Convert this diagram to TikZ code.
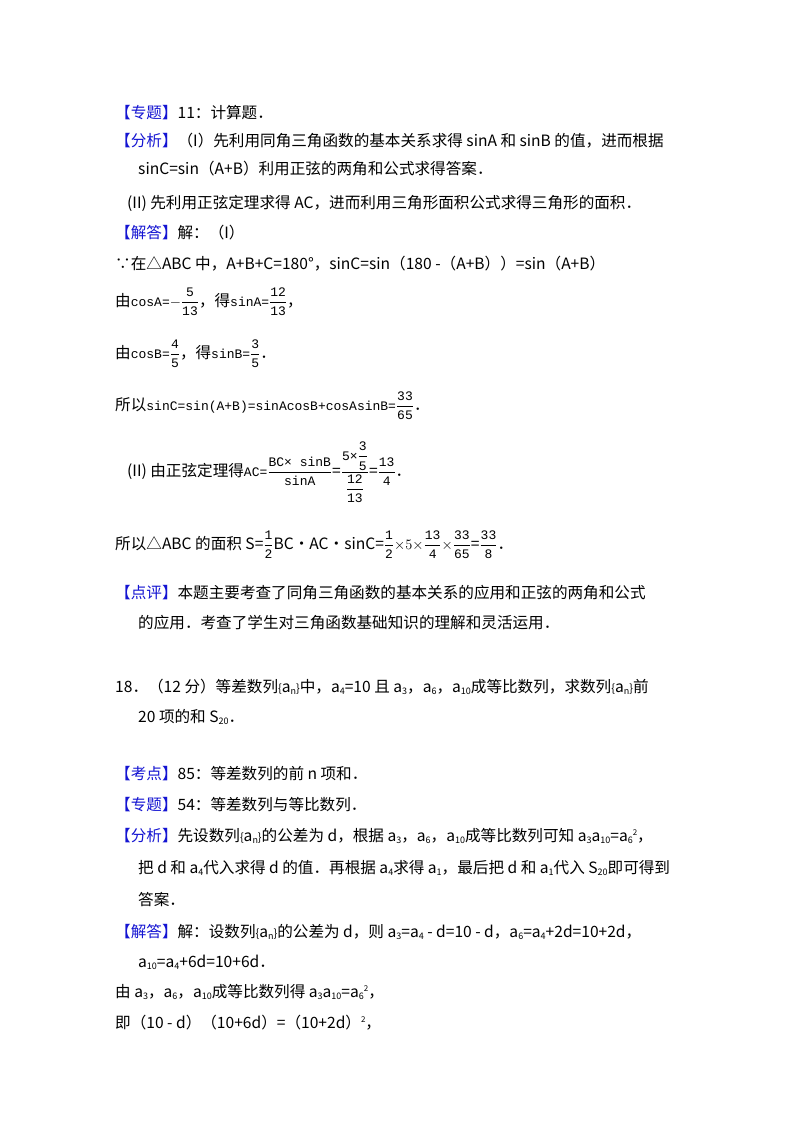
\documentclass[tikz,border=0pt]{standalone}
\usepackage{amsmath}
\usepackage{fontspec}
\setmainfont{Noto Sans CJK SC}
\newfontfamily\fm{Liberation Mono}
\definecolor{lb}{RGB}{20,20,210}
\newcommand{\lab}[1]{\textcolor{lb}{【#1】}}
\newcommand{\fs}{\fontsize{13}{14}\selectfont\fm}
\newcommand{\fr}[2]{$\dfrac{\text{\fs #1}}{\text{\fs #2}}$}
\newcommand{\sub}[1]{\raisebox{-2pt}{\fontsize{9}{9}\selectfont #1}}
\newcommand{\sups}[1]{\raisebox{6pt}{\fontsize{8}{8}\selectfont #1}}
\newcommand{\an}{{\fontsize{11}{11}\selectfont\{}a\sub{n}{\fontsize{11}{11}\selectfont\}}}
\begin{document}
\begin{tikzpicture}[x=1pt,y=-1pt,every node/.style={anchor=base west,inner sep=0pt,font=\fontsize{15.6}{17}\selectfont}]
\useasboundingbox[fill=white] (0,0) rectangle (800,1132);
\node (l1) at (115,118) {\lab{专题}11：计算题．};
\node (l2) at (115,146) {\lab{分析}（I）先利用同角三角函数的基本关系求得 sinA 和 sinB 的值，进而根据};
\node (l3) at (138,174) {sinC=sin（A+B）利用正弦的两角和公式求得答案．};
\node (l4) at (127,208) {(II) 先利用正弦定理求得 AC，进而利用三角形面积公式求得三角形的面积．};
\node (l5) at (115,238) {\lab{解答}解：（I）};
\node (l6) at (115,269) {∵在△ABC 中，A+B+C=180°，sinC=sin（180 -（A+B））=sin（A+B）};
\node (l7) at (115,306) {由{\fs cosA=}$-$\fr{5}{13}，得{\fs sinA=}\fr{12}{13}，};
\node (l8) at (115,358) {由{\fs cosB=}\fr{4}{5}，得{\fs sinB=}\fr{3}{5}．};
\node (l9) at (115,410) {所以{\fs sinC=sin(A+B)=sinAcosB+cosAsinB=}\fr{33}{65}．};
\node (l10) at (127,476) {(II) 由正弦定理得{\fs AC=}$\dfrac{\text{\fs BC× sinB}}{\text{\fs sinA}}$=$\dfrac{\text{\fs 5×}\dfrac{\text{\fs 3}}{\text{\fs 5}}}{\dfrac{\text{\fs 12}}{\text{\fs 13}}}$=\fr{13}{4}．};
\node (l11) at (115,549) {所以△ABC 的面积 S=\fr{1}{2}BC•AC•sinC=\fr{1}{2}$\times5\times$\fr{13}{4}$\times$\fr{33}{65}=\fr{33}{8}．};
\node (l12) at (115,598) {\lab{点评}本题主要考查了同角三角函数的基本关系的应用和正弦的两角和公式};
\node (l13) at (138,628) {的应用．考查了学生对三角函数基础知识的理解和灵活运用．};
\node (l14) at (115,692) {18．（12 分）等差数列\an 中，a\sub{4}=10 且 a\sub{3}，a\sub{6}，a\sub{10}成等比数列，求数列\an 前};
\node (l15) at (138,722) {20 项的和 S\sub{20}．};
\node (l16) at (115,779) {\lab{考点}85：等差数列的前 n 项和．};
\node (l17) at (115,810) {\lab{专题}54：等差数列与等比数列．};
\node (l18) at (115,841) {\lab{分析}先设数列\an 的公差为 d，根据 a\sub{3}，a\sub{6}，a\sub{10}成等比数列可知 a\sub{3}a\sub{10}=a\sub{6}\sups{2}，};
\node (l19) at (138,873) {把 d 和 a\sub{4}代入求得 d 的值．再根据 a\sub{4}求得 a\sub{1}，最后把 d 和 a\sub{1}代入 S\sub{20}即可得到};
\node (l20) at (138,905) {答案．};
\node (l21) at (115,937) {\lab{解答}解：设数列\an 的公差为 d，则 a\sub{3}=a\sub{4} - d=10 - d，a\sub{6}=a\sub{4}+2d=10+2d，};
\node (l22) at (138,967) {a\sub{10}=a\sub{4}+6d=10+6d．};
\node (l23) at (115,997) {由 a\sub{3}，a\sub{6}，a\sub{10}成等比数列得 a\sub{3}a\sub{10}=a\sub{6}\sups{2}，};
\node (l24) at (115,1028) {即（10 - d）（10+6d）=（10+2d）\sups{2}，};
\end{tikzpicture}
\end{document}
